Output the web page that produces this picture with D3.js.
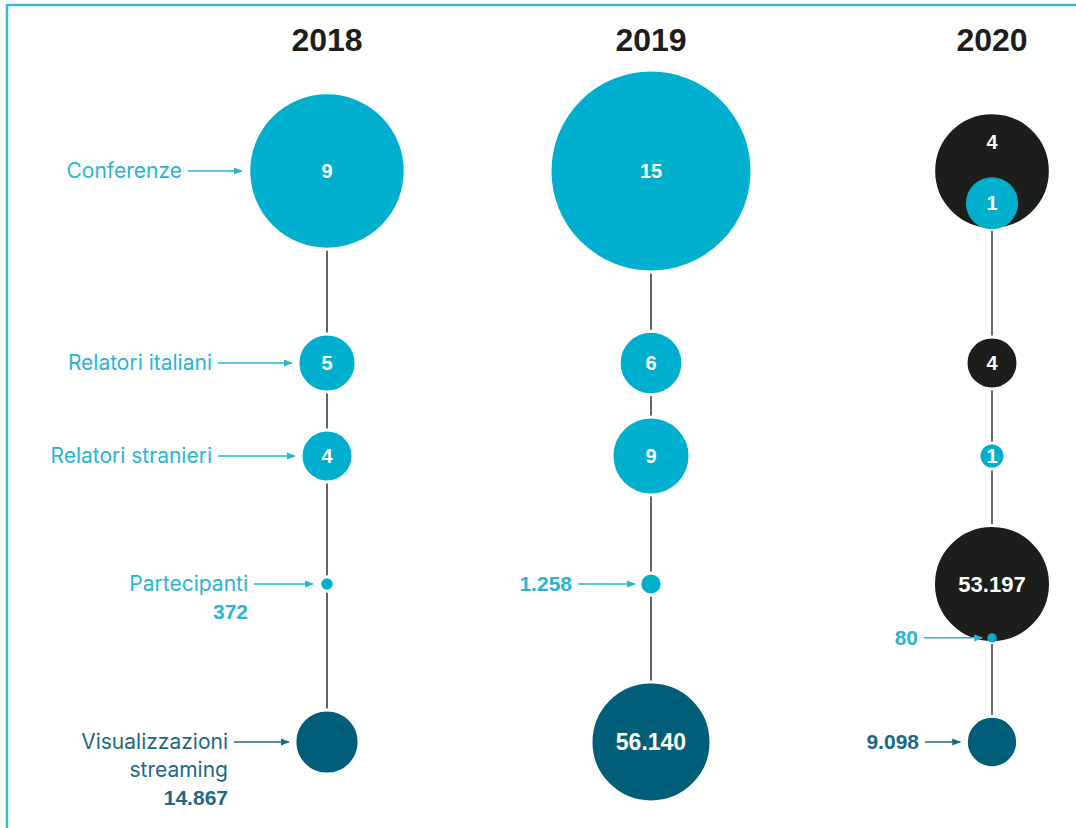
<!DOCTYPE html>
<html>
<head>
<meta charset="utf-8">
<script src="https://cdn.jsdelivr.net/npm/d3@7"></script>
<style>
  html, body { margin: 0; padding: 0; background: #ffffff; }
  svg { display: block; }
</style>
</head>
<body>
<script>
// ---------- DATA ----------
const years = ["2018", "2019", "2020"];
const metrics = ["Conferenze", "Relatori italiani", "Relatori stranieri", "Partecipanti", "Visualizzazioni streaming"];
// in-person (cyan) values
const conferenze = [9, 15, 1];
const relatoriItaliani = [5, 6, 0];
const relatoriStranieri = [4, 9, 1];
const partecipanti = [372, 1258, 80];
// online (black) values
const conferenzeOnline = [0, 0, 4];
const relatoriItalianiOnline = [0, 0, 4];
const relatoriStranieriOnline = [0, 0, 0];
const partecipantiOnline = [0, 0, 53197];
// streaming views (dark teal)
const visualizzazioni = [14867, 56140, 9098];

const fmt = v => d3.format(",")(v).replace(/,/g, ".");

// ---------- LAYOUT ----------
const W = 1076, H = 828;
const svg = d3.select("body").append("svg").attr("width", W).attr("height", H);

const CYAN = "#00afcd", BLACK = "#1d1d1b", TEAL = "#005e78";
const CYAN_TXT = "#2ab4d2", TEAL_TXT = "#1c6985";
const FONT = "Inter, 'Liberation Sans', Arial, sans-serif";
const FONT_B = "'Liberation Sans', Arial, sans-serif";

// frame
svg.append("line").attr("x1", 7).attr("x2", W).attr("y1", 5).attr("y2", 5)
  .attr("stroke", "#3ab7d3").attr("stroke-width", 2.5);
svg.append("line").attr("x1", 7).attr("x2", 7).attr("y1", 4).attr("y2", H)
  .attr("stroke", "#3ab7d3").attr("stroke-width", 2.5);

const x = d3.scaleOrdinal().domain(years).range([327, 651, 992]);
const y = d3.scaleOrdinal().domain(metrics).range([171, 363, 456, 584, 742]);

const rConf = d3.scaleSqrt().domain([0, 15]).range([0, 101]);
const rRel = d3.scaleSqrt().domain([0, 9]).range([0, 39]);
const rPeople = d3.scaleSqrt().domain([0, 56140]).range([2.5, 60]);

// arrow marker
const defs = svg.append("defs");
[["cy", CYAN_TXT], ["tl", TEAL_TXT]].forEach(([id, c]) => {
  defs.append("marker").attr("id", "arr-" + id)
    .attr("viewBox", "0 0 10 10").attr("refX", 9).attr("refY", 5)
    .attr("markerWidth", 9).attr("markerHeight", 9).attr("markerUnits", "userSpaceOnUse")
    .attr("orient", "auto")
    .append("path").attr("d", "M0,1 L10,5 L0,9 Z").attr("fill", c);
});

// year headers
svg.selectAll("text.year").data(years).join("text")
  .attr("class", "year")
  .attr("x", d => x(d)).attr("y", 51)
  .attr("text-anchor", "middle")
  .attr("font-family", FONT_B).attr("font-weight", "bold").attr("font-size", 32)
  .attr("fill", "#1d1d1b")
  .text(d => d);

// vertical connecting lines
svg.selectAll("line.stem").data(years).join("line")
  .attr("class", "stem")
  .attr("x1", d => x(d)).attr("x2", d => x(d))
  .attr("y1", y(metrics[0])).attr("y2", y(metrics[4]))
  .attr("stroke", "#333").attr("stroke-width", 1.5);

// build nodes
const rows = [
  { m: metrics[0], cyan: conferenze, black: conferenzeOnline, r: rConf },
  { m: metrics[1], cyan: relatoriItaliani, black: relatoriItalianiOnline, r: rRel },
  { m: metrics[2], cyan: relatoriStranieri, black: relatoriStranieriOnline, r: rRel },
  { m: metrics[3], cyan: partecipanti, black: partecipantiOnline, r: rPeople },
];

const nodes = {}; // key metric|year -> {cx, cy, r}
const g = svg.append("g");

function label(cx, cy, txt, size) {
  g.append("text").attr("x", cx).attr("y", cy).attr("dy", "0.36em")
    .attr("text-anchor", "middle")
    .attr("font-family", FONT_B).attr("font-weight", "bold").attr("font-size", size)
    .attr("fill", "#fff").text(txt);
}

rows.forEach(row => {
  years.forEach((yr, i) => {
    const cx = x(yr), cy = y(row.m);
    const c = row.cyan[i], b = row.black[i];
    if (b > 0) {
      const rb = row.r(b + c);
      g.append("circle").attr("cx", cx).attr("cy", cy).attr("r", rb)
        .attr("fill", BLACK).attr("stroke", "#fff").attr("stroke-width", 3);
      const lblY = c > 0 && row.m === metrics[0] ? cy - rb * 0.5 : cy;
      if (c > 0) {
        const rc = row.r(c);
        const ccy = cy + rb - rc;
        g.append("circle").attr("cx", cx).attr("cy", ccy).attr("r", rc).attr("fill", CYAN);
        nodes[row.m + "|" + yr] = { cx, cy: ccy, r: rc };
        if (row.m === metrics[0]) label(cx, ccy, fmt(c), 20);
      }
      label(cx, lblY, fmt(b), row.m === metrics[3] ? 22 : 20);
    } else if (c > 0) {
      const rc = row.r(c);
      g.append("circle").attr("cx", cx).attr("cy", cy).attr("r", rc)
        .attr("fill", CYAN).attr("stroke", "#fff").attr("stroke-width", 3);
      nodes[row.m + "|" + yr] = { cx, cy, r: rc };
      if (row.m !== metrics[3]) label(cx, cy, fmt(c), 20);
    }
  });
});

years.forEach((yr, i) => {
  const cx = x(yr), cy = y(metrics[4]);
  const rr = rPeople(visualizzazioni[i]);
  g.append("circle").attr("cx", cx).attr("cy", cy).attr("r", rr)
    .attr("fill", TEAL).attr("stroke", "#fff").attr("stroke-width", 3);
  nodes[metrics[4] + "|" + yr] = { cx, cy, r: rr };
  if (yr === "2019") label(cx, cy, fmt(visualizzazioni[i]), 23);
});

// ---------- ANNOTATIONS ----------
function annotate(key, lines, color, marker, textEnd, gap) {
  const n = nodes[key];
  const ty = n.cy;
  const t = svg.append("text").attr("text-anchor", "end")
    .attr("font-family", FONT).attr("fill", color);
  lines.forEach((ln, k) => {
    t.append("tspan").attr("x", textEnd).attr("y", ty + k * 28).attr("dy", "0.35em")
      .attr("font-size", ln.bold ? 21 : 21)
      .attr("font-weight", ln.bold ? "bold" : "normal")
      .attr("font-family", ln.bold ? FONT_B : FONT)
      .text(ln.t);
  });
  svg.append("line")
    .attr("x1", textEnd + 6).attr("x2", n.cx - n.r - gap)
    .attr("y1", ty).attr("y2", ty)
    .attr("stroke", color).attr("stroke-width", 1.5)
    .attr("marker-end", `url(#arr-${marker})`);
}

annotate(metrics[0] + "|2018", [{ t: metrics[0] }], CYAN_TXT, "cy", 182, 7);
annotate(metrics[1] + "|2018", [{ t: metrics[1] }], CYAN_TXT, "cy", 212, 6);
annotate(metrics[2] + "|2018", [{ t: metrics[2] }], CYAN_TXT, "cy", 212, 6);
annotate(metrics[3] + "|2018", [{ t: metrics[3] }, { t: fmt(partecipanti[0]), bold: true }], CYAN_TXT, "cy", 248, 7);
annotate(metrics[4] + "|2018", [{ t: "Visualizzazioni" }, { t: "streaming" }, { t: fmt(visualizzazioni[0]), bold: true }], TEAL_TXT, "tl", 228, 6);
annotate(metrics[3] + "|2019", [{ t: fmt(partecipanti[1]), bold: true }], CYAN_TXT, "cy", 572, 5);
annotate(metrics[3] + "|2020", [{ t: fmt(partecipanti[2]), bold: true }], CYAN_TXT, "cy", 918, 5);
annotate(metrics[4] + "|2020", [{ t: fmt(visualizzazioni[2]), bold: true }], TEAL_TXT, "tl", 919, 6);
</script>
</body>
</html>
